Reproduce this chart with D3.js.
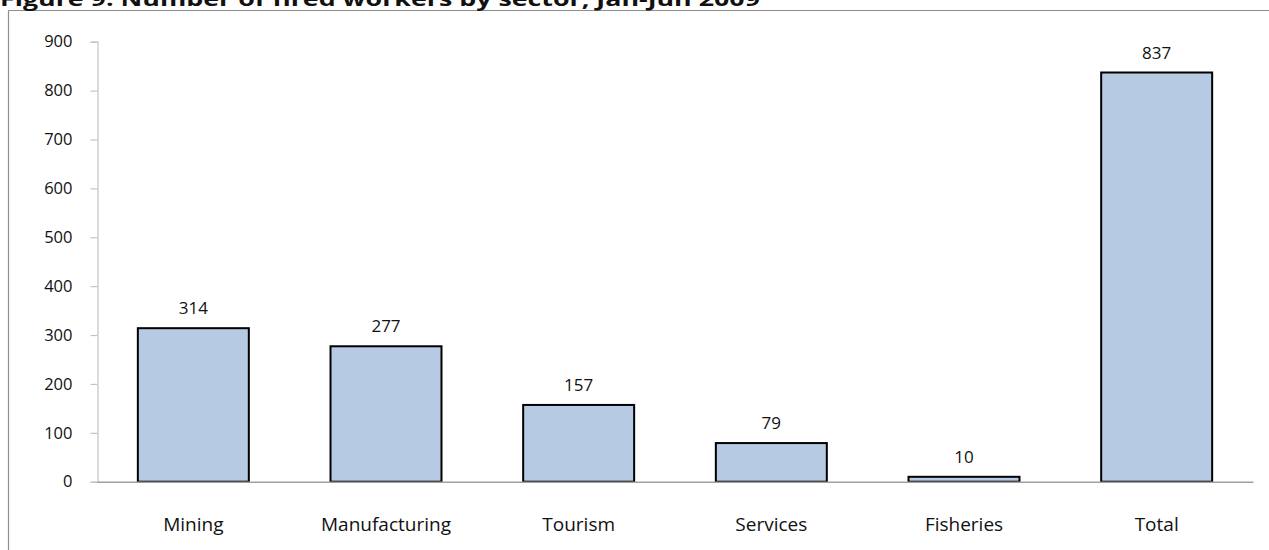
<!DOCTYPE html>
<html>
<head>
<meta charset="utf-8">
<script src="https://cdn.jsdelivr.net/npm/d3@7"></script>
<style>
  html, body { margin: 0; padding: 0; background: #fff; }
  svg { display: block; }
  text { font-family: "Open Sans", sans-serif; fill: #111; }
</style>
</head>
<body>
<svg id="chart" width="1269" height="550"></svg>
<script>
// Fired workers by sector, Jan-Jun 2009
const sectors = ["Mining", "Manufacturing", "Tourism", "Services", "Fisheries", "Total"];
const workers = [314, 277, 157, 79, 10, 837];
const yTicks = [0, 100, 200, 300, 400, 500, 600, 700, 800, 900];
const title = "Figure 9: Number of fired workers by sector, Jan-Jun 2009";

const svg = d3.select("#chart");

// Outer frame (top and left edges)
svg.append("line").attr("x1", 8.5).attr("x2", 1269).attr("y1", 10.5).attr("y2", 10.5)
  .attr("stroke", "#8e8e8e").attr("stroke-width", 1.2);
svg.append("line").attr("x1", 8.5).attr("x2", 8.5).attr("y1", 10.5).attr("y2", 550)
  .attr("stroke", "#8e8e8e").attr("stroke-width", 1.2);

// Title, running off the top of the page
svg.append("text")
  .attr("x", 0).attr("y", 6)
  .attr("font-size", 20).attr("font-weight", 700)
  .attr("textLength", 760).attr("lengthAdjust", "spacingAndGlyphs")
  .text(title);

const x = d3.scaleBand()
  .domain(sectors)
  .range([97, 1253])
  .paddingInner(0.424)
  .paddingOuter(0.212);

const y = d3.scaleLinear()
  .domain([0, 900])
  .range([481.7, 41.7]);

// Y axis
const yAxis = svg.append("g")
  .attr("transform", "translate(97.5,0)")
  .call(d3.axisLeft(y).tickValues(yTicks).tickSize(7).tickPadding(18).tickFormat(d3.format("d")));
yAxis.select(".domain").attr("stroke", "#c4c4c4").attr("stroke-width", 1.2);
yAxis.selectAll(".tick line").attr("stroke", "#c4c4c4").attr("stroke-width", 1.2);
yAxis.selectAll(".tick text")
  .attr("font-family", "'Open Sans', sans-serif")
  .attr("font-size", 16.5).attr("fill", "#111");

// Bars
svg.append("g").selectAll("rect")
  .data(sectors)
  .join("rect")
  .attr("x", d => x(d))
  .attr("width", x.bandwidth())
  .attr("y", (d, i) => y(workers[i]))
  .attr("height", (d, i) => y(0) - y(workers[i]))
  .attr("fill", "#b7cae3")
  .attr("stroke", "#000")
  .attr("stroke-width", 2);

// X axis baseline
const xAxis = svg.append("g")
  .attr("transform", `translate(0,${y(0)})`)
  .call(d3.axisBottom(x).tickSize(0).tickPadding(36));
xAxis.select(".domain").attr("stroke", "#a0a0a0").attr("stroke-width", 1.5);
xAxis.selectAll(".tick text")
  .attr("font-family", "'Open Sans', sans-serif")
  .attr("font-size", 19).attr("fill", "#111");

// Value labels above bars
svg.append("g").selectAll("text")
  .data(sectors)
  .join("text")
  .attr("x", d => x(d) + x.bandwidth() / 2)
  .attr("y", (d, i) => y(workers[i]) - 14)
  .attr("text-anchor", "middle")
  .attr("font-size", 17)
  .text((d, i) => workers[i]);
</script>
</body>
</html>
